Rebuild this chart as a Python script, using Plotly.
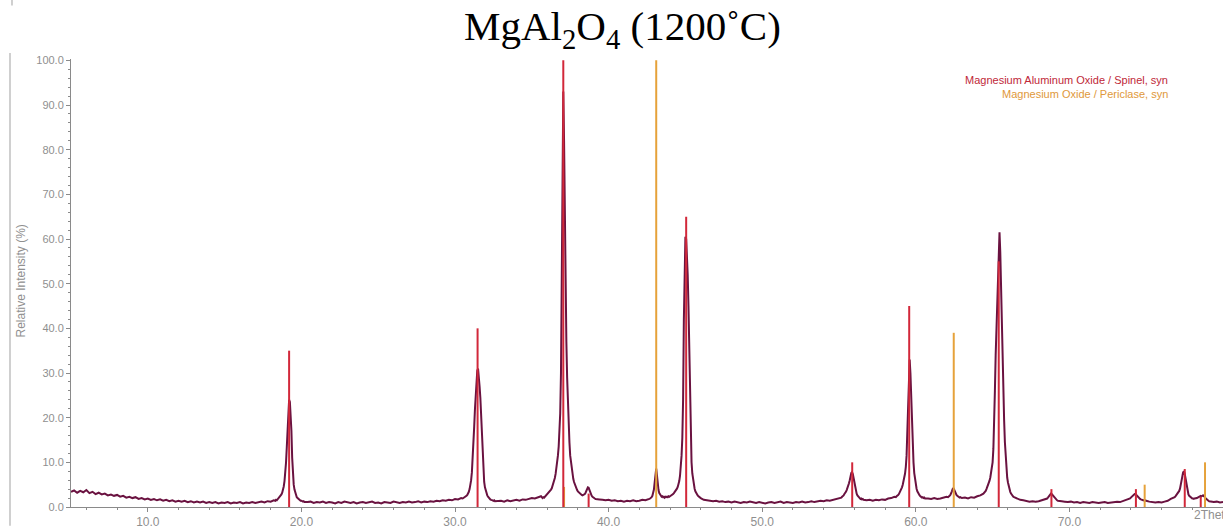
import plotly.graph_objects as go

# ---- Measured diffractogram, stored as stretches of constant 2-theta step ----
# Each stretch: start angle, step, relative intensities (%)
scan_05_18 = [3.4,
              3.7, 3.2, 3.6, 3.3, 3.8, 3.1, 3.4, 2.9, 3.2, 2.8,
              3.0, 2.6, 2.8, 2.5, 2.7, 2.3, 2.5, 2.1, 2.3, 2.0,
              2.2, 1.8, 2.0, 1.7, 1.9, 1.6, 1.8, 1.5, 1.7, 1.4,
              1.6, 1.3, 1.5, 1.2, 1.4, 1.2, 1.4, 1.1, 1.3, 1.0,
              1.2, 1.0, 1.2, 0.9, 1.1, 0.9, 1.1, 0.8, 1.0, 0.9,
              1.1, 0.8, 1.0, 0.9, 1.1, 0.8, 1.0, 0.9, 1.1, 0.9,
              1.0, 1.2, 1.0, 1.3, 1.2, 1.5]
scan_19 = [1.4, 1.6, 1.5, 1.7, 1.8, 2.0, 2.2, 2.5, 2.8, 3.2,
           3.8, 4.6, 5.8, 7.5, 10.0, 13.5, 18.0, 22.0, 24.0, 23.5,
           21.0, 17.0, 11.0, 7.0, 5.0, 3.9, 3.1, 2.6, 2.2, 2.0,
           1.8, 1.6, 1.5, 1.4, 1.4, 1.3, 1.2, 1.3, 1.1]
scan_20_30 = [1.1, 1.2, 0.9, 1.1, 1.0, 1.2, 0.9, 1.1, 1.0, 0.8,
              1.1, 0.9, 1.2, 1.0, 0.9, 1.1, 0.8, 1.0, 1.1, 0.9,
              1.0, 1.2, 0.9, 1.0, 0.8, 1.1, 1.0, 0.9, 1.2, 1.0,
              0.9, 1.1, 1.0, 1.2, 1.0, 1.1, 1.3, 1.0, 1.2, 1.1,
              1.3, 1.2, 1.4, 1.3, 1.5, 1.4, 1.6, 1.5, 1.8, 1.7,
              2.0]
scan_31 = [1.9, 2.0, 2.1, 2.2, 2.3, 2.5, 2.7, 3.0, 3.4, 4.0,
           4.8, 6.0, 7.8, 10.5, 14.0, 18.0, 22.0, 25.5, 28.5, 30.5,
           31.0, 29.5, 27.0, 24.5, 20.0, 15.0, 10.5, 7.5, 5.6, 4.4,
           3.6, 3.0, 2.6, 2.3, 2.0, 1.9, 1.7, 1.6, 1.6, 1.5,
           1.4, 1.5, 1.3]
scan_33_35 = [1.3, 1.4, 1.2, 1.5, 1.3, 1.4, 1.6, 1.4, 1.7, 1.6,
              1.8, 2.0, 1.9, 2.2, 2.4]
scan_37 = [2.0, 2.2, 2.1, 2.3, 2.4, 2.6, 2.7, 2.9, 3.1, 3.3,
           3.6, 3.9, 4.2, 4.7, 5.2, 5.8, 6.5, 7.4, 8.5, 9.8,
           11.5, 13.5, 16.5, 21.0, 30.0, 46.0, 70.0, 93.0, 82.0, 60.0,
           45.0, 37.0, 29.0, 23.0, 18.5, 14.5, 11.5, 9.8, 8.3, 7.2,
           6.3, 5.6, 5.0, 4.5, 4.1, 3.8, 3.5, 3.3, 3.1, 3.0,
           2.8, 2.7, 2.6, 2.7, 2.8]
scan_38_7 = [2.9, 3.2, 3.6, 4.1, 4.4, 4.3, 3.8, 3.2, 2.8, 2.5,
             2.3, 2.1, 2.0, 1.9, 1.8, 1.8]
scan_39_42 = [1.7, 1.6, 1.5, 1.6, 1.4, 1.5, 1.3, 1.4, 1.2, 1.4,
              1.3, 1.5, 1.3, 1.4, 1.6, 1.5]
scan_43_45 = [1.6, 1.7, 1.6, 1.8, 1.9, 2.0, 2.2, 2.5, 3.0, 3.9,
              5.5, 7.8, 8.6, 7.0, 5.0, 3.8, 3.1, 2.7, 2.5, 2.3,
              2.4, 2.2, 2.3, 2.1, 2.3, 2.2, 2.3, 2.2, 2.4, 2.3,
              2.4, 2.5, 2.6, 2.8, 2.9, 3.1, 3.3, 3.5, 3.8, 4.1,
              4.5, 5.0, 5.8, 7.0, 8.8, 11.5, 15.5, 24.0, 42.0, 55.0,
              60.5, 60.0, 57.0, 52.0, 45.0, 34.0, 22.0, 14.5, 10.0, 7.5,
              6.0, 4.9, 4.1, 3.5, 3.1, 2.8, 2.6, 2.4, 2.2, 2.1,
              2.0, 1.9, 1.8, 1.7, 1.6]
scan_46_55 = [1.5, 1.4, 1.3, 1.4, 1.2, 1.3, 1.1, 1.2, 1.0, 1.2,
              1.1, 0.9, 1.1, 1.0, 1.2, 1.0, 0.9, 1.1, 1.0, 0.8,
              1.0, 1.1, 0.9, 1.0, 1.2, 0.9, 1.1, 1.0, 0.9, 1.1,
              1.0, 1.2, 1.0, 1.1, 1.3, 1.1, 1.2, 1.4, 1.3, 1.5,
              1.4, 1.6, 1.7, 1.9]
scan_56 = [2.0, 2.1, 2.3, 2.4, 2.6, 2.9, 3.1, 3.4, 3.8, 4.2,
           4.7, 5.3, 6.0, 6.9, 7.6, 7.8, 7.4, 6.5, 5.4, 4.4,
           3.6, 3.0, 2.6, 2.3, 2.1, 2.0, 1.8, 1.9, 1.7, 1.8,
           1.6]
scan_57_58 = [1.5, 1.6, 1.4, 1.6, 1.5, 1.7, 1.6, 1.9, 2.0, 2.3]
scan_59_6 = [2.2, 2.4, 2.5, 2.7, 2.9, 3.2, 3.5, 3.9, 4.4, 5.0,
             5.7, 6.5, 7.5, 9.0, 11.5, 17.0, 24.0, 29.5, 33.0, 30.0,
             24.0, 18.5, 13.5, 10.0, 7.6, 6.0, 4.9, 4.1, 3.5, 3.1,
             2.8, 2.6, 2.4, 2.3, 2.1, 2.2, 2.0, 2.1, 1.9]
scan_61 = [1.9, 1.8, 2.0, 1.8, 1.9, 2.1, 2.3]
scan_62_5 = [2.2, 2.3, 2.5, 2.7, 3.0, 3.5, 4.0, 4.2, 3.9, 3.4,
             3.0, 2.7, 2.5, 2.3, 2.2, 2.1, 2.2]
scan_63_64 = [2.0, 2.1, 1.9, 2.2, 2.1, 2.4, 2.6, 3.0]
scan_65_5 = [3.3, 3.6, 4.0, 4.4, 4.8, 5.3, 5.9, 6.6, 7.5, 8.6,
             10.0, 13.0, 18.0, 26.0, 34.0, 40.0, 47.0, 54.0, 59.5, 61.5,
             57.0, 48.0, 39.0, 32.0, 25.5, 19.5, 14.5, 10.8, 8.2, 6.6,
             5.5, 4.6, 3.9, 3.4, 3.0, 2.7, 2.5, 2.3, 2.2]
scan_67_68 = [1.9, 1.6, 1.5, 1.3, 1.2, 1.3, 1.2, 1.3, 1.5, 1.7]
scan_68_8 = [1.8, 1.9, 2.1, 2.3, 2.6, 2.8, 3.0, 2.9, 2.7, 2.4,
             2.1, 1.9, 1.7, 1.6, 1.5, 1.4, 1.4]
scan_70_73 = [1.3, 1.2, 1.1, 1.2, 1.0, 1.1, 0.9, 1.1, 1.0, 0.9,
              1.1, 1.0, 0.9, 1.0, 1.1, 0.9, 1.0, 1.1, 1.2, 1.1,
              1.3, 1.5]
scan_74_3 = [1.6, 1.7, 1.8, 1.9, 2.1, 2.3, 2.5, 2.7, 2.8, 2.9,
             2.9, 2.7, 2.5, 2.2, 2.0, 1.9, 1.8, 1.7, 1.6, 1.6,
             1.5, 1.5, 1.4, 1.5, 1.4]
scan_75_76 = [1.2, 1.1, 1.0, 1.1, 1.0, 1.2, 1.4, 1.8]
scan_77_5 = [1.9, 2.0, 2.1, 2.2, 2.4, 2.6, 2.8, 3.0, 3.3, 3.6,
             4.1, 4.8, 5.6, 6.8, 7.7, 8.0, 7.6, 6.5, 5.2, 4.1,
             3.3, 2.8, 2.5, 2.3, 2.1, 2.0, 1.9, 1.9, 1.8, 1.9, 1.9]
scan_78_6 = [1.9, 2.0, 2.1, 2.2, 2.3, 2.4, 2.5, 2.4, 2.5, 2.6,
             2.4, 2.3, 2.0, 1.8, 1.6, 1.5, 1.4, 1.3]
scan_79_80 = [1.2, 1.1, 1.2, 1.0, 1.1]

scan_parts = [
    (5.0, 0.2, scan_05_18), (18.30, 0.05, scan_19), (20.4, 0.2, scan_20_30),
    (30.50, 0.05, scan_31), (32.8, 0.2, scan_33_35), (35.70, 0.05, scan_37),
    (38.45, 0.05, scan_38_7), (39.4, 0.2, scan_39_42), (42.50, 0.05, scan_43_45),
    (46.4, 0.2, scan_46_55), (55.10, 0.05, scan_56), (56.8, 0.2, scan_57_58),
    (58.70, 0.05, scan_59_6), (60.8, 0.2, scan_61), (62.10, 0.05, scan_62_5),
    (63.0, 0.2, scan_63_64), (64.50, 0.05, scan_65_5), (66.6, 0.2, scan_67_68),
    (68.50, 0.05, scan_68_8), (69.5, 0.2, scan_70_73), (73.80, 0.05, scan_74_3),
    (75.2, 0.2, scan_75_76), (76.70, 0.05, scan_77_5), (78.25, 0.05, scan_78_6),
    (79.2, 0.2, scan_79_80),
]

# ---- Reference patterns (stick positions and relative intensities) ----
spinel_name = "Magnesium Aluminum Oxide / Spinel, syn"
spinel_2theta = [19.20, 31.47, 37.05, 38.70, 45.05, 55.86, 59.57, 65.40, 68.83, 74.33, 77.51, 78.55]
spinel_rel = [35, 40, 100, 3, 65, 10, 45, 55, 4, 4, 8.5, 2.3]

periclase_name = "Magnesium Oxide / Periclase, syn"
periclase_2theta = [37.10, 43.10, 62.47, 74.90, 78.83]
periclase_rel = [4.5, 100, 39, 5, 10]

x_ticks = [10, 20, 30, 40, 50, 60, 70]
y_ticks = [0, 10, 20, 30, 40, 50, 60, 70, 80, 90, 100]

PROFILE = "#6a1240"
SPINEL = "#d2283a"
PERICLASE = "#e6a23a"
AXIS = "#8a8a8a"
LABEL = "#8f8f8f"
SANS = "Liberation Sans, Arial, sans-serif"

# Expand the scan stretches onto their 2-theta grid
prof_x, prof_y = [], []
for start, step, vals in scan_parts:
    for i, v in enumerate(vals):
        prof_x.append(round(start + i * step, 3))
        prof_y.append(v)


def stick_coords(pos, hts):
    xs, ys = [], []
    for p, h in zip(pos, hts):
        xs += [p, p, None]
        ys += [0, h, None]
    return xs, ys


fig = go.Figure()
fig.add_trace(go.Scatter(x=prof_x, y=prof_y, mode="lines",
                         line=dict(color=PROFILE, width=2), hoverinfo="skip"))
px_, py_ = stick_coords(periclase_2theta, periclase_rel)
fig.add_trace(go.Scatter(x=px_, y=py_, mode="lines", line=dict(color=PERICLASE, width=2),
                         name=periclase_name))
sx_, sy_ = stick_coords(spinel_2theta, spinel_rel)
fig.add_trace(go.Scatter(x=sx_, y=sy_, mode="lines", line=dict(color=SPINEL, width=2),
                         name=spinel_name))

W, H = 1223, 529
ML, MR, MT, MB = 71, 0, 59, 17
PW, PH = W - ML - MR, H - MT - MB


def px_to_paper_x(px):
    return (px - ML) / PW


def py_to_paper_y(py):
    return (H - MB - py) / PH


annotations = [
    # title
    dict(text="MgAl<sub>2</sub>O<sub>4</sub> (1200˚C)", xref="paper", yref="paper",
         x=px_to_paper_x(622), y=py_to_paper_y(29), xanchor="center", yanchor="middle",
         showarrow=False, font=dict(family="Liberation Serif, Times New Roman, serif",
                                     size=41, color="#000000")),
    # pattern key
    dict(text=spinel_name, xref="paper", yref="paper", x=px_to_paper_x(1170),
         y=py_to_paper_y(80), xanchor="right", yanchor="middle", showarrow=False,
         font=dict(family=SANS, size=11, color="#c02838")),
    dict(text=periclase_name, xref="paper", yref="paper", x=px_to_paper_x(1170),
         y=py_to_paper_y(94), xanchor="right", yanchor="middle", showarrow=False,
         font=dict(family=SANS, size=11, color="#e0983a")),
    # axis titles
    dict(text="Relative Intensity (%)", xref="paper", yref="paper", x=px_to_paper_x(21),
         y=py_to_paper_y(284), xanchor="center", yanchor="middle", textangle=-90,
         showarrow=False, font=dict(family=SANS, size=12, color=LABEL)),
    dict(text="2Theta", xref="paper", yref="paper", x=px_to_paper_x(1192),
         y=py_to_paper_y(520), xanchor="left", yanchor="middle", showarrow=False,
         font=dict(family=SANS, size=12, color=LABEL)),
]
# edge of the neighbouring panel's axis labels along the top border
for t in x_ticks:
    annotations.append(dict(text=f"{t:.1f}", xref="x", yref="paper", x=t,
                            y=py_to_paper_y(-6), xanchor="center", yanchor="middle",
                            showarrow=False, font=dict(family=SANS, size=12, color=LABEL)))
annotations.append(dict(text="2Theta", xref="paper", yref="paper", x=px_to_paper_x(1187),
                        y=py_to_paper_y(-6), xanchor="left", yanchor="middle",
                        showarrow=False, font=dict(family=SANS, size=12, color=LABEL)))

shapes = [
    dict(type="line", xref="paper", yref="paper", x0=px_to_paper_x(10), x1=px_to_paper_x(10),
         y0=py_to_paper_y(53), y1=py_to_paper_y(H + 2), line=dict(color="#b0b0b0", width=1.2)),
    dict(type="line", xref="paper", yref="paper", x0=px_to_paper_x(12), x1=px_to_paper_x(12),
         y0=py_to_paper_y(-2), y1=py_to_paper_y(5), line=dict(color="#b0b0b0", width=1.2)),
]

fig.update_layout(
    width=W, height=H,
    margin=dict(l=ML, r=MR, t=MT, b=MB, pad=0),
    paper_bgcolor="white", plot_bgcolor="white",
    showlegend=False,
    annotations=annotations,
    shapes=shapes,
    xaxis=dict(range=[5, 80], tickvals=x_ticks, ticktext=[f"{t:.1f}" for t in x_ticks],
               ticks="outside", ticklen=4, tickcolor=AXIS, showline=True, linecolor=AXIS,
               linewidth=1, showgrid=False, zeroline=False,
               tickfont=dict(family=SANS, size=12, color=LABEL),
               minor=dict(dtick=2, ticks="outside", ticklen=2, tickcolor=AXIS, showgrid=False)),
    yaxis=dict(range=[0, 100.3], tickvals=y_ticks, ticktext=[f"{t:.1f}" for t in y_ticks],
               ticks="outside", ticklen=4, tickcolor=AXIS, showline=True, linecolor=AXIS,
               linewidth=1, showgrid=False, zeroline=False,
               tickfont=dict(family=SANS, size=11, color=LABEL),
               minor=dict(dtick=2, ticks="outside", ticklen=2, tickcolor=AXIS, showgrid=False)),
)

fig.write_html("out.html")
